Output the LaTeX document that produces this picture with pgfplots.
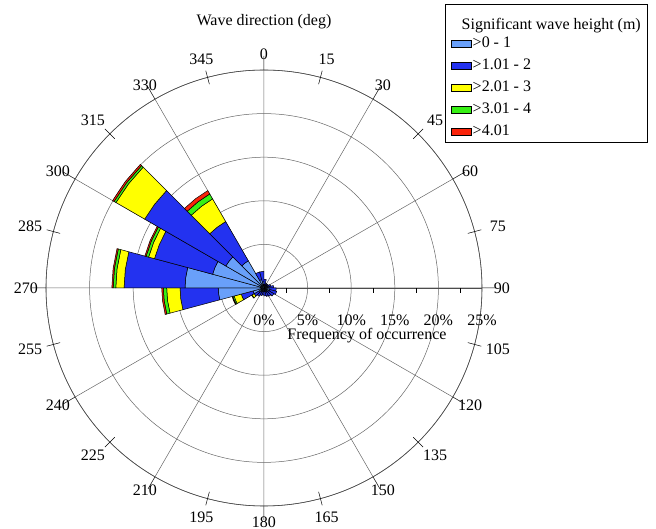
\documentclass[border=0pt]{standalone}
\usepackage{fontspec}
\setmainfont{Liberation Serif}
\usepackage{pgfplots}
\pgfplotsset{compat=1.18}
\usepgfplotslibrary{polar}
\definecolor{cLB}{RGB}{105,160,250}
\definecolor{cB}{RGB}{35,50,240}
\definecolor{cY}{RGB}{255,255,0}
\definecolor{cG}{RGB}{55,240,20}
\definecolor{cR}{RGB}{250,35,10}
% sector: colour, start angle, mid angle, end angle (math degrees), inner radius, outer radius (%)
\newcommand{\wsect}[6]{\addplot[forget plot, draw=black, line width=0.5pt, fill=#1] coordinates {(#2,#5) (#2,#6) (#3,#6) (#4,#6) (#4,#5) (#3,#5)} -- cycle;}
\begin{document}
\fontsize{16}{19}\selectfont
\begin{tikzpicture}
\useasboundingbox (-264pt,-241pt) rectangle (392pt,288pt);
\begin{polaraxis}[
  at={(0pt,0pt)}, anchor=center,
  scale only axis, width=436pt, height=436pt,
  xmin=0, xmax=360, ymin=0, ymax=25,
  xtick={0,30,...,330},
  xticklabels={90,60,30,0,330,300,270,240,210,180,150,120},
  xticklabel style={anchor=center, inner sep=0pt, xshift={20*cos(\tick)}, yshift={16*sin(\tick)}},
  extra x ticks={15,45,...,345},
  extra x tick labels={75,45,15,345,315,285,255,225,195,165,135,105},
  extra x tick style={grid=none, tick align=center,
    xticklabel style={anchor=center, inner sep=0pt, xshift={11*cos(\tick)}, yshift={10*sin(\tick)}}},
  ytick={0,5,...,25},
  yticklabels={0\%,5\%,10\%,15\%,20\%,25\%},
  yticklabel style={anchor=center, yshift=-32pt, inner sep=0pt},
  y tick style={draw=none},
  extra y ticks={2.5,7.5,12.5,17.5,22.5},
  extra y tick labels={},
  extra y tick style={grid=none, tick align=outside, y tick style={draw=black, line width=0.5pt}, major tick length=5pt},
  x tick style={black, line width=0.5pt},
  tick align=inside,
  major tick length=14pt,
  xmajorgrids=true, ymajorgrids=true,
  grid style={black!60, line width=0.5pt},
  axis line style={black!70, line width=0.6pt},
  legend image code/.code={\draw[#1, line width=0.5pt] (0pt,-3.7pt) rectangle (20pt,3.7pt);},
  legend style={at={(axis description cs:0.915,1.152)}, anchor=north west,
    draw=black, line width=0.6pt, fill=white, inner xsep=6pt, inner ysep=2pt,
    row sep=5pt, cells={anchor=west},
    nodes={inner sep=1pt, text height=11pt, text depth=4pt}},
]
% compass 0-15 ... 345-360 (math angle = 90 - compass)
\wsect{cLB}{75}{82.5}{90}{0}{0.4}   \wsect{cB}{75}{82.5}{90}{0.4}{1.0}
\wsect{cLB}{60}{67.5}{75}{0}{0.3}   \wsect{cB}{60}{67.5}{75}{0.3}{0.6}
\wsect{cLB}{45}{52.5}{60}{0}{0.3}   \wsect{cB}{45}{52.5}{60}{0.3}{0.5}
\wsect{cLB}{30}{37.5}{45}{0}{0.3}   \wsect{cB}{30}{37.5}{45}{0.3}{0.6}
\wsect{cLB}{15}{22.5}{30}{0}{0.4}   \wsect{cB}{15}{22.5}{30}{0.4}{0.8}
\wsect{cLB}{0}{7.5}{15}{0}{0.5}     \wsect{cB}{0}{7.5}{15}{0.5}{1.1}
\wsect{cLB}{345}{352.5}{360}{0}{0.6} \wsect{cB}{345}{352.5}{360}{0.6}{1.4}
\wsect{cLB}{330}{337.5}{345}{0}{0.7} \wsect{cB}{330}{337.5}{345}{0.7}{1.5}
\wsect{cLB}{315}{322.5}{330}{0}{0.6} \wsect{cB}{315}{322.5}{330}{0.6}{1.3}
\wsect{cLB}{300}{307.5}{315}{0}{0.5} \wsect{cB}{300}{307.5}{315}{0.5}{1.1}
\wsect{cLB}{285}{292.5}{300}{0}{0.4} \wsect{cB}{285}{292.5}{300}{0.4}{1.0}
\wsect{cLB}{270}{277.5}{285}{0}{0.4} \wsect{cB}{270}{277.5}{285}{0.4}{0.9}
\wsect{cLB}{255}{262.5}{270}{0}{0.4} \wsect{cB}{255}{262.5}{270}{0.4}{0.8}
\wsect{cLB}{240}{247.5}{255}{0}{0.4} \wsect{cB}{240}{247.5}{255}{0.4}{0.9}
\wsect{cLB}{225}{232.5}{240}{0}{0.5} \wsect{cB}{225}{232.5}{240}{0.5}{1.1}
% compass 225-240
\wsect{cLB}{210}{217.5}{225}{0}{0.7} \wsect{cB}{210}{217.5}{225}{0.7}{1.3}
\wsect{cY}{210}{217.5}{225}{1.3}{1.6} \wsect{cG}{210}{217.5}{225}{1.6}{1.65}
% compass 240-255
\wsect{cLB}{195}{202.5}{210}{0}{1.3} \wsect{cB}{195}{202.5}{210}{1.3}{2.7}
\wsect{cY}{195}{202.5}{210}{2.7}{3.55} \wsect{cG}{195}{202.5}{210}{3.55}{3.7}
\wsect{cR}{195}{202.5}{210}{3.7}{3.78}
% compass 255-270
\wsect{cLB}{180}{187.5}{195}{0}{5.25} \wsect{cB}{180}{187.5}{195}{5.25}{9.63}
\wsect{cY}{180}{187.5}{195}{9.63}{11.16} \wsect{cG}{180}{187.5}{195}{11.16}{11.55}
\wsect{cR}{180}{187.5}{195}{11.55}{11.73}
% compass 270-285
\wsect{cLB}{165}{172.5}{180}{0}{9.06} \wsect{cB}{165}{172.5}{180}{9.06}{16.05}
\wsect{cY}{165}{172.5}{180}{16.05}{17.0} \wsect{cG}{165}{172.5}{180}{17.0}{17.3}
\wsect{cR}{165}{172.5}{180}{17.3}{17.45}
% compass 285-300
\wsect{cLB}{150}{157.5}{165}{0}{6.1} \wsect{cB}{150}{157.5}{165}{6.1}{13.0}
\wsect{cY}{150}{157.5}{165}{13.0}{13.7} \wsect{cG}{150}{157.5}{165}{13.7}{14.0}
\wsect{cR}{150}{157.5}{165}{14.0}{14.15}
% compass 300-315
\wsect{cLB}{135}{142.5}{150}{0}{5.05} \wsect{cB}{135}{142.5}{150}{5.05}{15.8}
\wsect{cY}{135}{142.5}{150}{15.8}{19.6} \wsect{cG}{135}{142.5}{150}{19.6}{19.85}
\wsect{cR}{135}{142.5}{150}{19.85}{20.05}
% compass 315-330
\wsect{cLB}{120}{127.5}{135}{0}{3.6} \wsect{cB}{120}{127.5}{135}{3.6}{8.8}
\wsect{cY}{120}{127.5}{135}{8.8}{11.8} \wsect{cG}{120}{127.5}{135}{11.8}{12.45}
\wsect{cR}{120}{127.5}{135}{12.45}{12.9}
% compass 330-345
\wsect{cLB}{105}{112.5}{120}{0}{1.0} \wsect{cB}{105}{112.5}{120}{1.0}{1.9}
% compass 345-360
\wsect{cLB}{90}{97.5}{105}{0}{0.7} \wsect{cB}{90}{97.5}{105}{0.7}{1.9}
\addlegendimage{empty legend}
\addlegendentry[text height=22pt, text depth=0pt]{\hspace*{-11pt}Significant wave height (m)}
\addlegendimage{fill=cLB, draw=black}
\addlegendentry{>0 - 1}
\addlegendimage{fill=cB, draw=black}
\addlegendentry{>1.01 - 2}
\addlegendimage{fill=cY, draw=black}
\addlegendentry{>2.01 - 3}
\addlegendimage{fill=cG, draw=black}
\addlegendentry{>3.01 - 4}
\addlegendimage{fill=cR, draw=black}
\addlegendentry{>4.01}
\end{polaraxis}
\node[inner sep=0pt] at (103pt,-48pt) {Frequency of occurrence};
\node at (0pt,266pt) {Wave direction (deg)};
\end{tikzpicture}
\end{document}
